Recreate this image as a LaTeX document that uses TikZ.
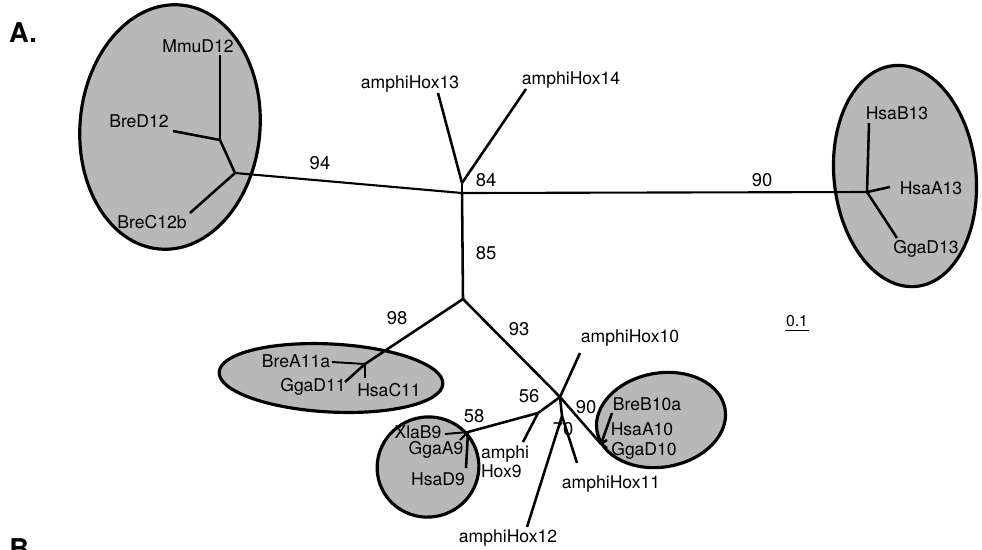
\documentclass[tikz,border=0pt]{standalone}
\usepackage{fontspec}
\setmainfont{TeX Gyre Heros}
\usepackage{tikz}
\usetikzlibrary{shapes.geometric}

\begin{document}
\begin{tikzpicture}[x=0.02cm, y=-0.02cm, line width=1.45pt,
        clade/.style={ellipse, draw, line width=1.8pt, fill=black!28,
            inner sep=0pt},
        taxon/.style={inner sep=0pt, font=\fontsize{10}{11}\selectfont},
        boot/.style={inner sep=0pt, font=\fontsize{10.5}{12}\selectfont},
        panel/.style={inner sep=0pt, font=\fontsize{15.5}{17}\selectfont\bfseries}]
    \clip (0,0) rectangle (982,549);

    \node [panel] (A) at (23,33) {A.};
    \node [panel] (B) at (23,549) {B.};

    % shaded clusters
    \node [clade, minimum width=3.6cm, minimum height=4.9cm, rotate=-5] (C12) at (170,127) {};
    \node [clade, minimum width=2.84cm, minimum height=4.44cm, rotate=6] (C13) at (905,176) {};
    \node [clade, minimum width=4.48cm, minimum height=1.36cm, rotate=-3] (C11) at (331,378) {};
    \node [clade, minimum width=2.04cm, minimum height=2cm, rotate=20] (C9) at (428,467) {};
    \node [clade, minimum width=2.6cm, minimum height=1.88cm, rotate=10] (C10) at (661,420) {};

    % inner nodes of the tree
    \coordinate (root) at (462,193);
    \coordinate (n84) at (462,183);
    \coordinate (n85) at (463,299);
    \coordinate (n93) at (560,397);
    \coordinate (n70) at (562,416);
    \coordinate (n56) at (538,413);
    \coordinate (j12) at (235,173);
    \coordinate (j12b) at (220,140);
    \coordinate (j13) at (867,192);
    \coordinate (j11) at (365,364);
    \coordinate (j10) at (601,444);
    \coordinate (j9) at (468,432);

    % branch tips
    \coordinate (tMmuD12) at (220,55);
    \coordinate (tBreD12) at (173,131);
    \coordinate (tBreC12b) at (190,213);
    \coordinate (tHox13) at (438,93);
    \coordinate (tHox14) at (526,89);
    \coordinate (tHsaB13) at (869,123);
    \coordinate (tHsaA13) at (890,187);
    \coordinate (tGgaD13) at (897,238);
    \coordinate (tBreA11a) at (332,362);
    \coordinate (tGgaD11) at (345,382);
    \coordinate (tHsaC11) at (365,378);
    \coordinate (tHox10) at (580,353);
    \coordinate (tBreB10a) at (612,413);
    \coordinate (tHsaA10) at (607,440);
    \coordinate (tGgaD10) at (607,448);
    \coordinate (tHox11) at (577,463);
    \coordinate (tHox12) at (527,527);
    \coordinate (tHox9) at (523,442);
    \coordinate (tXlaB9) at (445,434);
    \coordinate (tGgaA9) at (460,440);
    \coordinate (tHsaD9) at (466,468);

    % branches
    \draw [line width=1.2pt] (j12) -- (root) -- (j13);
    \draw (root) -- (n84);
    \draw (n84) -- (tHox13);
    \draw (n84) -- (tHox14);
    \draw (root) -- (n85);
    \draw (j12) -- (j12b);
    \draw (j12b) -- (tMmuD12);
    \draw (j12b) -- (tBreD12);
    \draw (j12) -- (tBreC12b);
    \draw (j13) -- (tHsaB13);
    \draw (j13) -- (tHsaA13);
    \draw (j13) -- (tGgaD13);
    \draw (n85) -- (j11) -- (tGgaD11);
    \draw [line width=1.1pt] (j11) -- (tBreA11a);
    \draw [line width=1.1pt] (j11) -- (tHsaC11);
    \draw (n85) -- (n93);
    \draw (n93) -- (tHox10);
    \draw (n93) -- (j10);
    \draw (j10) -- (tBreB10a);
    \draw (j10) -- (tHsaA10);
    \draw (j10) -- (tGgaD10);
    \draw (n93) -- (n70);
    \draw (n70) -- (tHox11);
    \draw (n70) -- (tHox12);
    \draw (n93) -- (n56);
    \draw (n56) -- (tHox9);
    \draw (n56) -- (j9);
    \draw [line width=1.1pt] (j9) -- (tXlaB9);
    \draw [line width=1.1pt] (j9) -- (tGgaA9);
    \draw (j9) -- (tHsaD9);

    % bootstrap values
    \node [boot] (b94) at (320,163) {94};
    \node [boot] (b84) at (486,180) {84};
    \node [boot] (b90a) at (762,180) {90};
    \node [boot] (b85) at (486,253) {85};
    \node [boot] (b98) at (397,318) {98};
    \node [boot] (b93) at (519,329) {93};
    \node [boot] (b56) at (529,396) {56};
    \node [boot] (b90b) at (586,407) {90};
    \node [boot] (b70) at (563,429) {70};
    \node [boot] (b58) at (474,416) {58};

    % taxa
    \node [taxon] (MmuD12) at (198,46) {MmuD12};
    \node [taxon] (BreD12) at (139,121) {BreD12};
    \node [taxon] (BreC12b) at (152,222) {BreC12b};
    \node [taxon] (Hox13) at (410,84) {amphiHox13};
    \node [taxon] (Hox14) at (571,80) {amphiHox14};
    \node [taxon] (HsaB13) at (897,113) {HsaB13};
    \node [taxon] (HsaA13) at (931,188) {HsaA13};
    \node [taxon] (GgaD13) at (926,249) {GgaD13};
    \node [taxon] (BreA11a) at (296,361) {BreA11a};
    \node [taxon] (GgaD11) at (313,387) {GgaD11};
    \node [taxon] (HsaC11) at (389,390) {HsaC11};
    \node [taxon] (Hox10) at (630,338) {amphiHox10};
    \node [taxon] (BreB10a) at (647,404) {BreB10a};
    \node [taxon] (HsaA10) at (642,429) {HsaA10};
    \node [taxon] (GgaD10) at (644,451) {GgaD10};
    \node [taxon] (Hox11) at (611,484) {amphiHox11};
    \node [taxon] (Hox12) at (508,538) {amphiHox12};
    \node [taxon, align=left] (Hox9) at (505,462) {amphi\\Hox9};
    \node [taxon] (XlaB9) at (418,432) {XlaB9};
    \node [taxon] (GgaA9) at (436,450) {GgaA9};
    \node [taxon] (HsaD9) at (438,479) {HsaD9};

    % scale bar
    \node [taxon, font=\fontsize{9}{10}\selectfont] (scale) at (797,321) {0.1};
    \draw [line width=0.9pt] ([yshift=-1.5pt]scale.south west) -- ([yshift=-1.5pt]scale.south east);
\end{tikzpicture}
\end{document}
